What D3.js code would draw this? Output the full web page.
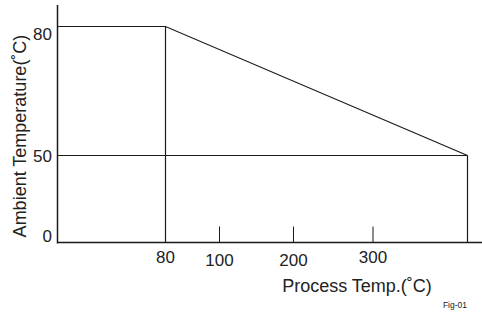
<!DOCTYPE html>
<html>
<head>
<meta charset="utf-8">
<script src="https://cdn.jsdelivr.net/npm/d3@7"></script>
<style>
  body { margin: 0; background: #fff; }
  svg text { font-family: "Liberation Sans", Arial, sans-serif; fill: #222; }
</style>
</head>
<body>
<div id="chart"></div>
<script>
// Derating curve: ambient temp limit vs process temp
const processTemps = [0, 80, 420];
const ambientLimits = [80, 80, 50];
const xTicks = [100, 200, 300];
const xLabels = [80, 100, 200, 300];
const yLabels = [0, 50, 80];
const maxProcess = 420;

const width = 482, height = 315;

const svg = d3.select("#chart")
  .append("svg")
  .attr("width", width)
  .attr("height", height);

// schematic (non-linear) axes, piecewise
const x = d3.scaleLinear()
  .domain([0, 80, 100, 200, 300, 420])
  .range([57.5, 165.5, 219.5, 293.5, 373, 467.5]);

const y = d3.scaleLinear()
  .domain([0, 50, 80])
  .range([242.5, 155.5, 26.5]);

const ink = "#1a1a1a";

// axes
svg.append("line")
  .attr("x1", x(0)).attr("x2", x(0))
  .attr("y1", 5).attr("y2", y(0) + 1)
  .attr("stroke", ink).attr("stroke-width", 1.5);

svg.append("line")
  .attr("x1", x(0)).attr("x2", width)
  .attr("y1", y(0)).attr("y2", y(0))
  .attr("stroke", ink).attr("stroke-width", 1.5);

// 50 reference line
svg.append("line")
  .attr("x1", x(0)).attr("x2", x(maxProcess))
  .attr("y1", y(50)).attr("y2", y(50))
  .attr("stroke", ink).attr("stroke-width", 1.2);

// vertical drops at 80 and max process temp
svg.append("line")
  .attr("x1", x(80)).attr("x2", x(80))
  .attr("y1", y(80)).attr("y2", y(0))
  .attr("stroke", ink).attr("stroke-width", 1.2);

svg.append("line")
  .attr("x1", x(maxProcess)).attr("x2", x(maxProcess))
  .attr("y1", y(50)).attr("y2", y(0))
  .attr("stroke", ink).attr("stroke-width", 1.2);

// limit curve
const line = d3.line()
  .x((d, i) => x(processTemps[i]))
  .y(d => y(d));

svg.append("path")
  .datum(ambientLimits)
  .attr("d", line)
  .attr("fill", "none")
  .attr("stroke", ink)
  .attr("stroke-width", 1.2);

// small ticks on x axis
svg.selectAll(".xtick")
  .data(xTicks)
  .join("line")
  .attr("x1", d => x(d)).attr("x2", d => x(d))
  .attr("y1", y(0) - 16).attr("y2", y(0))
  .attr("stroke", ink).attr("stroke-width", 1);

// x tick labels
const xLabelDy = { 80: 263, 100: 266, 200: 266, 300: 263 };
svg.selectAll(".xlab")
  .data(xLabels)
  .join("text")
  .attr("x", d => x(d))
  .attr("y", d => xLabelDy[d])
  .attr("text-anchor", "middle")
  .style("font-size", "17px")
  .text(d => d);

// y labels
const yLabelPos = { 0: 242, 50: 162, 80: 40 };
svg.selectAll(".ylab")
  .data(yLabels)
  .join("text")
  .attr("x", 52)
  .attr("y", d => yLabelPos[d])
  .attr("text-anchor", "end")
  .style("font-size", "17px")
  .text(d => d);

// axis titles
svg.append("text")
  .attr("transform", "translate(26,136) rotate(-90)")
  .attr("text-anchor", "middle")
  .style("font-size", "18px")
  .text("Ambient Temperature(˚C)");

svg.append("text")
  .attr("x", 357)
  .attr("y", 292)
  .attr("text-anchor", "middle")
  .style("font-size", "18px")
  .text("Process Temp.(˚C)");

svg.append("text")
  .attr("x", 467)
  .attr("y", 308)
  .attr("text-anchor", "end")
  .style("font-size", "8.5px")
  .text("Fig-01");
</script>
</body>
</html>
